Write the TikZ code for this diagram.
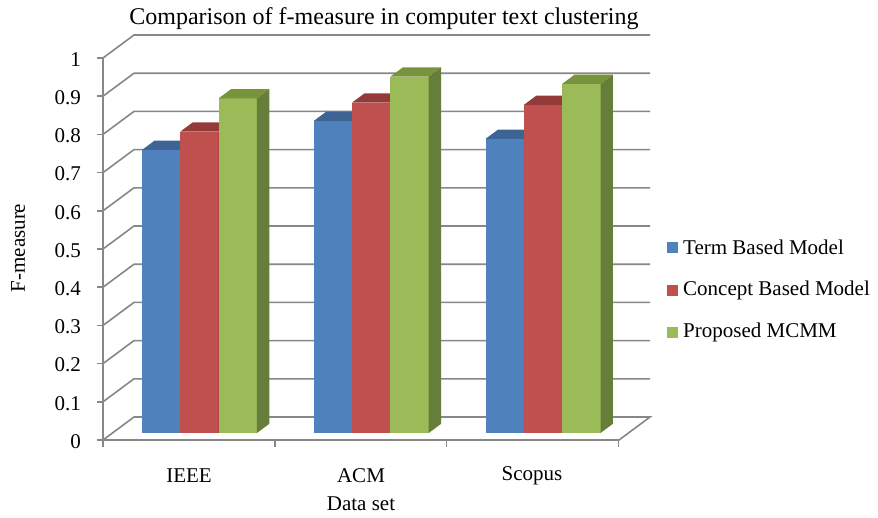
\documentclass[tikz,border=0pt]{standalone}
\usepackage{fontspec}
\setmainfont{Liberation Serif}
\definecolor{bluef}{HTML}{4F81BD}
\definecolor{bluet}{HTML}{3C6494}
\definecolor{blues}{HTML}{3A5F8C}
\definecolor{redf}{HTML}{C0504D}
\definecolor{redt}{HTML}{943B39}
\definecolor{reds}{HTML}{8C3836}
\definecolor{greenf}{HTML}{9BBB59}
\definecolor{greent}{HTML}{77933C}
\definecolor{greens}{HTML}{677E3A}
\definecolor{gridc}{HTML}{878787}
\tikzset{
  gridline/.style={draw=gridc, line width=1.6pt},
  lab/.style={font=\fontsize{21}{24}\selectfont, inner sep=0pt},
}
\begin{document}
\begin{tikzpicture}[x=1pt,y=-1pt]
\useasboundingbox[fill=white] (0,0) rectangle (878,517);
% title
\node[lab, font=\fontsize{24}{28}\selectfont, anchor=base] (title) at (384,24) {Comparison of f-measure in computer text clustering};
% grid: side wall + back wall
\foreach \i in {1,...,10}{
  \pgfmathsetmacro{\yy}{440-38.2*\i}
  \draw[gridline] (103,\yy) -- (134,\yy-23) -- (650,\yy-23);
}
% floor
\draw[gridline] (103,440) -- (134,417) -- (650,417) -- (619,440) -- (103,440);
% value axis
\draw[gridline] (103,58) -- (103,440);
\foreach \i in {0,...,10}{
  \pgfmathsetmacro{\yy}{440-38.2*\i}
  \draw[gridline] (97,\yy) -- (103,\yy);
}
\foreach \i/\t in {0/0,1/0.1,2/0.2,3/0.3,4/0.4,5/0.5,6/0.6,7/0.7,8/0.8,9/0.9,10/1}{
  \pgfmathsetmacro{\yy}{440-38.2*\i+1.5}
  \node[lab, anchor=east] (v\i) at (81,\yy) {\t};
}
% category ticks
\foreach \k in {0,...,3}{
  \draw[gridline] (103+171.8*\k,440) -- (103+171.8*\k,447);
}
% bars
\foreach \c/\va/\vb/\vc in {0/0.741/0.789/0.876, 1/0.817/0.865/0.933, 2/0.770/0.859/0.914}{
  \foreach \s/\v/\cf/\ct/\cs in {0/\va/bluef/bluet/blues, 1/\vb/redf/redt/reds, 2/\vc/greenf/greent/greens}{
    \pgfmathsetmacro{\xa}{142+171.8*\c+38.3*\s}
    \pgfmathsetmacro{\xb}{\xa+38.3}
    \pgfmathsetmacro{\yt}{433-382*\v}
    \fill[\cf] (\xa,433) rectangle (\xb,\yt);
    \fill[\ct] (\xa,\yt) -- (\xb,\yt) -- (\xb+12.4,\yt-9.2) -- (\xa+12.4,\yt-9.2) -- cycle;
    \fill[\cs] (\xb,\yt) -- (\xb+12.4,\yt-9.2) -- (\xb+12.4,423.8) -- (\xb,433) -- cycle;
  }
}
% category labels
\node[lab] (c1) at (189,476) {IEEE};
\node[lab] (c2) at (361,476) {ACM};
\node[lab] (c3) at (532,476) {Scopus};
\node[lab] (xl) at (361,504) {Data set};
\node[lab, rotate=90] (yl) at (18,248) {F-measure};
% legend
\foreach \n/\col/\t/\yy in {1/bluef/Term Based Model/247, 2/redf/Concept Based Model/290, 3/greenf/Proposed MCMM/332}{
  \fill[\col] (667,\yy-5.5) rectangle (678,\yy+5.5);
  \node[lab, anchor=west] (leg\n) at (683,\yy) {\t};
}
\end{tikzpicture}
\end{document}
